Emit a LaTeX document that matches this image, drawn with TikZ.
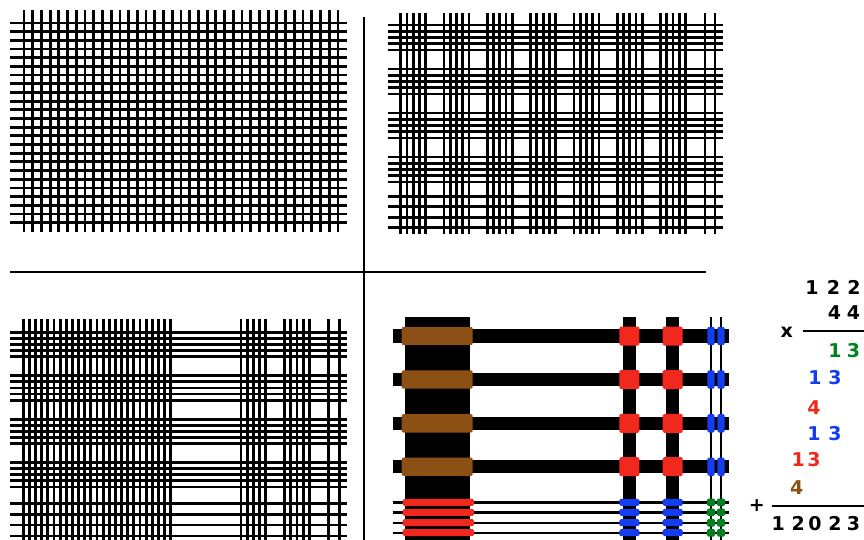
\documentclass[tikz,border=0pt]{standalone}
\usepackage{fontspec}
\newfontfamily\digitfont{DejaVu Sans}
\definecolor{barbrown}{RGB}{140,80,20}
\definecolor{barred}{RGB}{240,40,30}
\definecolor{barblue}{RGB}{20,60,240}
\definecolor{bargreen}{RGB}{0,130,30}
\begin{document}
\begin{tikzpicture}[x=1pt,y=-1pt,line width=2.8pt,
  digit/.style={font=\digitfont\bfseries\fontsize{19}{19}\selectfont,inner sep=0pt},
  rule/.style={line width=2.2pt}]
\useasboundingbox (0,0) rectangle (864,540);
% dividers between the four panels
\draw[line width=2.8pt] (10,272) -- (706,272);
\draw[line width=2.8pt] (364,17) -- (364,540);
% top-left: 37 x 24 plain lines
\foreach \i in {0,...,36} \draw (24+8.72*\i,10) -- (24+8.72*\i,232);
\foreach \j in {0,...,23} \draw (10,23+8.68*\j) -- (347,23+8.68*\j);
% top-right: 37 = 7 fives + 2, 24 = 4 fives + 4
\foreach \g in {0,...,6} \foreach \k in {0,...,4} \draw (400.7+43.3*\g+6.25*\k,12.7) -- (400.7+43.3*\g+6.25*\k,234);
\foreach \x in {705,715} \draw (\x,12.7) -- (\x,234);
\foreach \g in {0,...,3} \foreach \k in {0,...,4} \draw (388,25+44*\g+6.25*\k) -- (723,25+44*\g+6.25*\k);
\foreach \y in {196.7,206.7,217.3,227.7} \draw (388,\y) -- (723,\y);
% bottom-left: 37 = 25 + 2 fives + 2
\foreach \i in {0,...,24} \draw (23.3+6.14*\i,319.3) -- (23.3+6.14*\i,540);
\foreach \g in {0,1} \foreach \k in {0,...,4} \draw (241+43.5*\g+6.2*\k,319.3) -- (241+43.5*\g+6.2*\k,540);
\foreach \x in {328.8,339.6} \draw (\x,319.3) -- (\x,540);
\foreach \g in {0,...,3} \foreach \k in {0,...,4} \draw (10,332.3+43.4*\g+6.1*\k) -- (347,332.3+43.4*\g+6.1*\k);
\foreach \y in {503.3,514.3,525,536} \draw (10,\y) -- (347,\y);
% bottom-right: bars in place of bundles
\fill (405,317.3) rectangle (470,540);
\foreach \x in {629.3,672.7} \fill (\x-6.7,317.3) rectangle (\x+6.7,540);
\foreach \x in {711,721} \draw[line width=2.4pt] (\x,317.3) -- (\x,540);
\foreach \y in {336,379.5,423.3,466.7} \fill (392.7,\y-6.7) rectangle (728.7,\y+6.7);
\foreach \y in {502.3,512.3,522.7,532.7} \draw[line width=2.4pt] (392.7,\y) -- (728.7,\y);
% crossings, coloured by place value
\foreach \y in {336,379.5,423.3,466.7} {
  \fill[barbrown,rounded corners=2pt] (401.7,\y-9.2) rectangle (472.7,\y+9.2);
  \foreach \x in {629.3,672.7} \fill[barred,rounded corners=1.5pt] (\x-10,\y-9.5) rectangle (\x+10,\y+9.5);
  \foreach \x in {711,721} \fill[barblue,rounded corners=1.5pt] (\x-3.6,\y-9.2) rectangle (\x+3.6,\y+9.2);
}
\foreach \y in {502.3,512.3,522.7,532.7} {
  \fill[barred,rounded corners=1.5pt] (402.7,\y-3.5) rectangle (474,\y+3.5);
  \foreach \x in {629.3,672.7} \fill[barblue,rounded corners=1.5pt] (\x-10,\y-3.5) rectangle (\x+10,\y+3.5);
  \foreach \x in {711,721} \fill[bargreen,rounded corners=1.5pt] (\x-4.1,\y-3.8) rectangle (\x+4.1,\y+3.8);
}
% the sum written out
\node[digit] (t2) at (812,287.3) {1};
\node[digit] (t1) at (833.5,287.3) {2};
\node[digit] (t0) at (854,287.3) {2};
\node[digit] (b1) at (834.5,312.7) {4};
\node[digit] (b0) at (853.5,312.7) {4};
\node[digit] (times) at (786.7,332) {x};
\draw[rule] (803.3,331) -- (864,331);
\node[digit,bargreen] (g1) at (835,350.7) {1};
\node[digit,bargreen] (g0) at (853.5,350.7) {3};
\node[digit,barblue] (u2) at (815,377.3) {1};
\node[digit,barblue] (u1) at (835,377.3) {3};
\node[digit,barred] (r2) at (814,407.3) {4};
\node[digit,barblue] (v2) at (814,434) {1};
\node[digit,barblue] (v1) at (835,434) {3};
\node[digit,barred] (s3) at (798.3,460) {1};
\node[digit,barred] (s2) at (814,460) {3};
\node[digit,barbrown] (w3) at (796.7,487.3) {4};
\node[digit] (plus) at (756.7,505.7) {+};
\draw[rule] (771.7,505.7) -- (864,505.7);
\node[digit] (p4) at (778.3,523.3) {1};
\node[digit] (p3) at (798.3,523.3) {2};
\node[digit] (p2) at (815,523.3) {0};
\node[digit] (p1) at (835,523.3) {2};
\node[digit] (p0) at (853.5,523.3) {3};
\end{tikzpicture}
\end{document}
